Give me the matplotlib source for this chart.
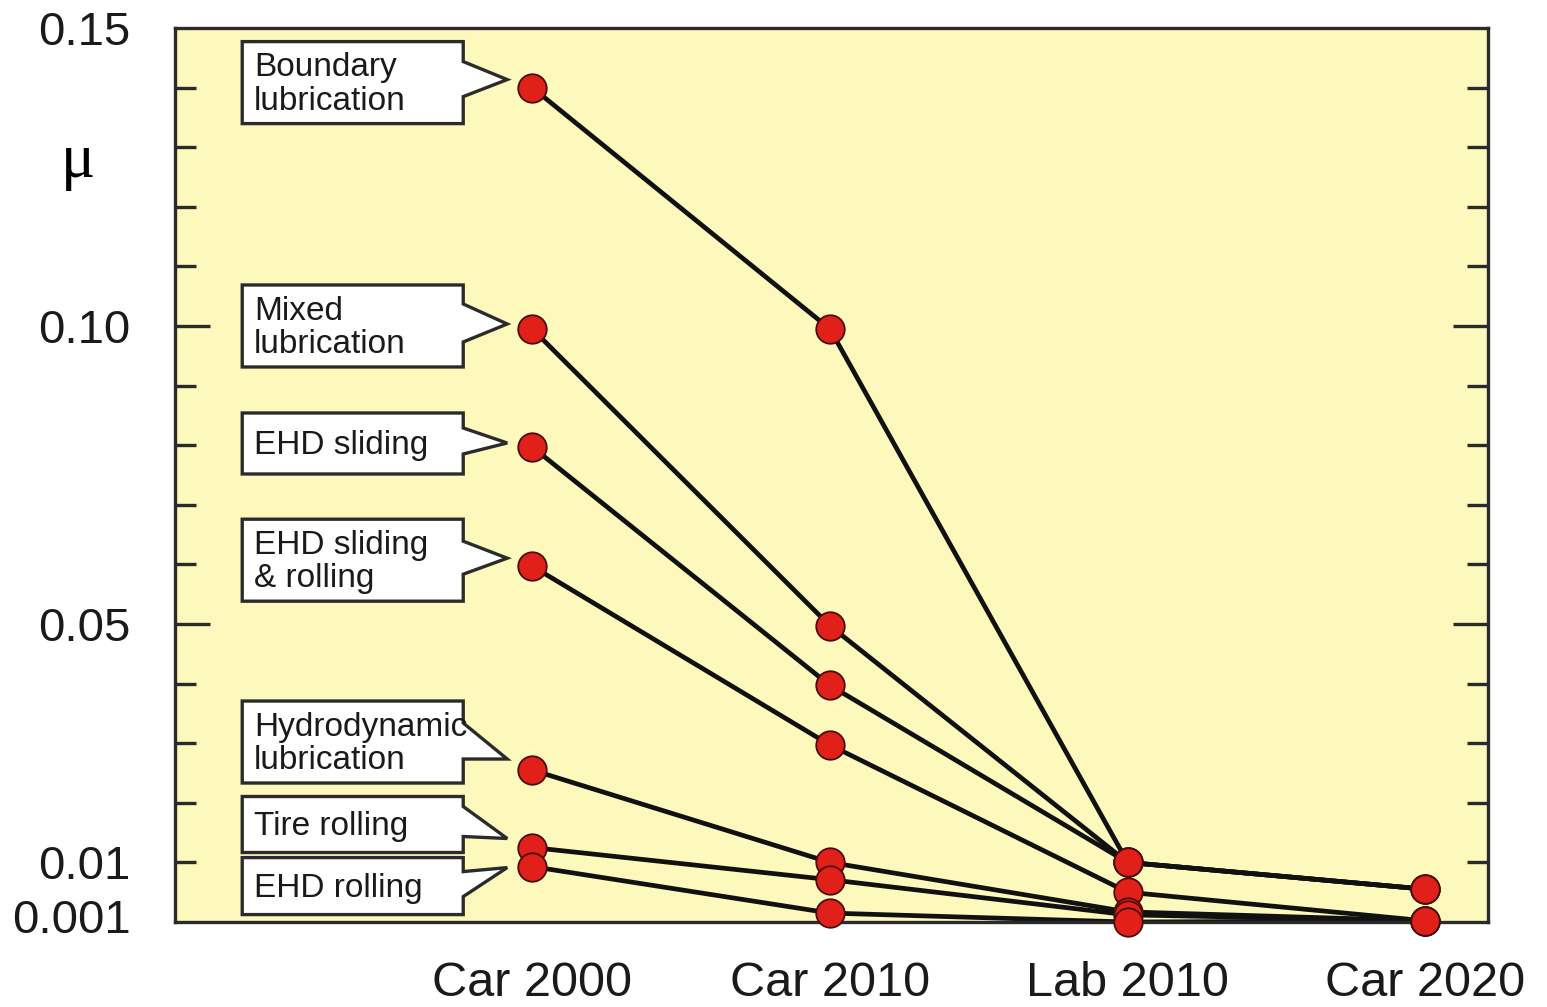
import matplotlib
matplotlib.use("Agg")
import matplotlib.pyplot as plt
import matplotlib.patches as patches
import matplotlib.transforms as transforms

plt.rcParams["font.family"] = ["Liberation Sans", "DejaVu Sans"]

# Data
stages = ["Car 2000", "Car 2010", "Lab 2010", "Car 2020"]
labels = [
    "Boundary\nlubrication",
    "Mixed\nlubrication",
    "EHD sliding",
    "EHD sliding\n& rolling",
    "Hydrodynamic\nlubrication",
    "Tire rolling",
    "EHD rolling",
]
boundary = [0.140, 0.0995, 0.0100, 0.0055]
mixed = [0.0995, 0.0497, 0.0100, 0.0055]
ehd_sliding = [0.0797, 0.0397, 0.0100, 0.0055]
ehd_slide_roll = [0.0597, 0.0297, 0.0050, 0.0002]
hydrodynamic = [0.0255, 0.0100, 0.0017, 0.0002]
tire_rolling = [0.0125, 0.0071, 0.0012, 0.0002]
ehd_rolling = [0.0093, 0.0015, 0.0000, 0.0002]
series = [boundary, mixed, ehd_sliding, ehd_slide_roll,
          hydrodynamic, tire_rolling, ehd_rolling]

ytick_vals = [0.15, 0.10, 0.05, 0.01, 0.001]
ytick_text = ["0.15", "0.10", "0.05", "0.01", "0.001"]

# callout box layout, pixels relative to the Car 2000 marker (y up)
box_top = [46, 44, 34, 47, 69, 51, 9]
box_bot = [-36, -38, -27, -35, -13, -5, -48]
ptr_top = [26, 25, 19, 25, 47, 41, -5]
ptr_bot = [-9, -13, -7, -8, 11, 11, -30]
ptr_tip = [8, 5, 4, 8, 11, 9, -1]
BOX_L, BOX_R, TIP_X = -290, -69, -25

fig = plt.figure(figsize=(15.47, 10.07), dpi=100)
ax = fig.add_axes([0.1131, 0.0844, 0.8487, 0.8878])
ax.set_facecolor("#fdf8bc")

xs = list(range(len(stages)))
for vals in series:
    ax.plot(xs, vals, color="#111111", lw=3.4, zorder=2, solid_capstyle="round")
for vals in series:
    ax.plot(xs, vals, "o", ms=20.5, color="#e02019", mec="#4a0d0a", mew=1.3,
            zorder=4, clip_on=False)

# speech-bubble labels at the Car 2000 points
for i, lab in enumerate(labels):
    y0 = series[i][0]
    trans = fig.dpi_scale_trans + transforms.ScaledTranslation(0, y0, ax.transData)
    verts = [(BOX_L, box_top[i]), (BOX_R, box_top[i]), (BOX_R, ptr_top[i]),
             (TIP_X, ptr_tip[i]), (BOX_R, ptr_bot[i]), (BOX_R, box_bot[i]),
             (BOX_L, box_bot[i])]
    verts = [(vx / 100, vy / 100) for vx, vy in verts]
    ax.add_patch(patches.Polygon(verts, closed=True, facecolor="white",
                                 edgecolor="#2b2b2b", lw=2.4, transform=trans,
                                 zorder=3, joinstyle="miter"))
    ax.text((BOX_L + 12) / 100, (box_top[i] + box_bot[i]) / 200 - 0.02, lab,
            transform=trans, ha="left", va="center", fontsize=24,
            color="#1a1a1a", linespacing=1.1, zorder=5)

ax.set_xlim(-1.2, 3.21)
ax.set_ylim(0, 0.15)

ax.set_xticks(xs)
ax.set_xticklabels(stages, fontsize=35, color="#1a1a1a")
ax.tick_params(axis="x", length=0, pad=28)

# y ticks every 0.01 on both sides, labels only at some
tick_pos = [0.001] + [k / 100 for k in range(1, 16)]
tick_lab = []
for t in tick_pos:
    lab = ""
    for v, s in zip(ytick_vals, ytick_text):
        if abs(v - t) < 1e-9:
            lab = s
    tick_lab.append(lab)
ax.set_yticks(tick_pos)
ax.set_yticklabels(tick_lab, fontsize=34, color="#1a1a1a")
ax.tick_params(axis="y", direction="in", left=True, right=True,
               width=2.4, length=15, pad=32, color="#2b2b2b")
for t, tk in zip(tick_pos, ax.yaxis.get_major_ticks()):
    if t < 0.005 or t > 0.145:
        size = 0
    elif abs(t - 0.05) < 1e-9 or abs(t - 0.10) < 1e-9:
        size = 25
    else:
        size = 15
    tk.tick1line.set_markersize(size)
    tk.tick2line.set_markersize(size)

ax.set_ylabel("μ", rotation=0, fontsize=46, family=["Liberation Serif", "DejaVu Serif"])
ax.yaxis.set_label_coords(-0.074, 0.818)

for sp in ax.spines.values():
    sp.set_linewidth(2.4)
    sp.set_color("#2b2b2b")

fig.savefig("out.png", dpi=100)
